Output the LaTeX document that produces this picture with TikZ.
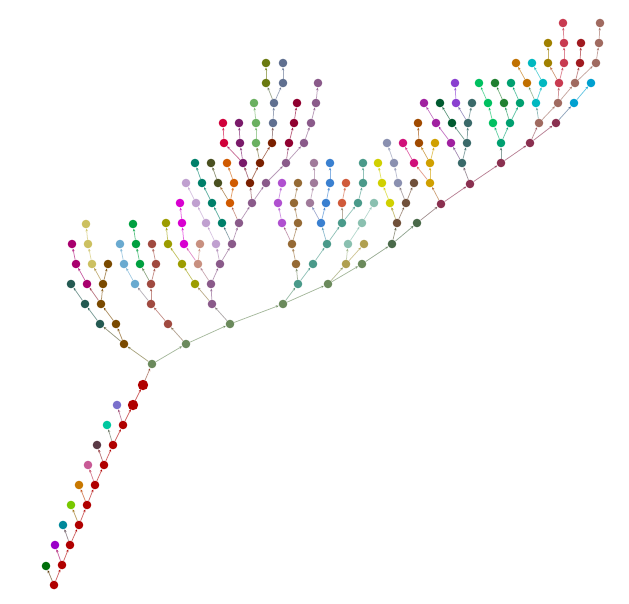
\documentclass[tikz,border=0pt]{standalone}
\usepackage{xcolor}
\usetikzlibrary{arrows.meta,backgrounds}

% palette
\definecolor{stemred}{HTML}{B00000}
\definecolor{leafgreen}{HTML}{006E0A}
\definecolor{leafviolet}{HTML}{9A00C8}
\definecolor{leafteal}{HTML}{00889A}
\definecolor{leaflime}{HTML}{78C800}
\definecolor{leaforange}{HTML}{C87800}
\definecolor{leafpink}{HTML}{C85A96}
\definecolor{leafplum}{HTML}{5A3A46}
\definecolor{leafaqua}{HTML}{00C8A0}
\definecolor{leafperi}{HTML}{7A70CC}
\definecolor{sage}{HTML}{6B8A5C}
\definecolor{umber}{HTML}{7A4A00}
\definecolor{pine}{HTML}{245A52}
\definecolor{berry}{HTML}{A8006E}
\definecolor{khaki}{HTML}{CCC060}
\definecolor{rust}{HTML}{A04A40}
\definecolor{sky}{HTML}{6AAAD0}
\definecolor{emerald}{HTML}{00A040}
\definecolor{olivine}{HTML}{9C9C00}
\definecolor{fuchsia}{HTML}{D800D0}
\definecolor{salmon}{HTML}{C89080}
\definecolor{mauve}{HTML}{8A5A8A}
\definecolor{lavender}{HTML}{C0A0D0}
\definecolor{jade}{HTML}{00806A}
\definecolor{tangerine}{HTML}{D05A00}
\definecolor{moss}{HTML}{4A5020}
\definecolor{chestnut}{HTML}{7A2000}
\definecolor{plum}{HTML}{7A1A6A}
\definecolor{crimson}{HTML}{D0003A}
\definecolor{lightgrn}{HTML}{6AB060}
\definecolor{slate}{HTML}{607090}
\definecolor{avocado}{HTML}{6A7A10}
\definecolor{wine}{HTML}{900030}
\definecolor{orchid}{HTML}{B050D0}
\definecolor{bronze}{HTML}{956A35}
\definecolor{dusk}{HTML}{A07A9A}
\definecolor{azure}{HTML}{3A80D0}
\definecolor{seafoam}{HTML}{4A9A8A}
\definecolor{coral}{HTML}{D05A3A}
\definecolor{mint}{HTML}{8AC0B0}
\definecolor{sand}{HTML}{B0A050}
\definecolor{fern}{HTML}{4A6A4A}
\definecolor{lemon}{HTML}{D0D000}
\definecolor{cocoa}{HTML}{70503A}
\definecolor{steel}{HTML}{8A90B0}
\definecolor{rose}{HTML}{D0107A}
\definecolor{goldy}{HTML}{D0A000}
\definecolor{maroonish}{HTML}{8A3050}
\definecolor{rusty}{HTML}{A04A00}
\definecolor{grape}{HTML}{A020A0}
\definecolor{forest}{HTML}{005A30}
\definecolor{amethyst}{HTML}{8A40D0}
\definecolor{spruce}{HTML}{3A6A6A}
\definecolor{spring}{HTML}{00C060}
\definecolor{clover}{HTML}{208030}
\definecolor{viridian}{HTML}{00A070}
\definecolor{rosybr}{HTML}{A06A60}
\definecolor{turq}{HTML}{00B8C0}
\definecolor{ocean}{HTML}{00A0D0}
\definecolor{amber}{HTML}{C07000}
\definecolor{mustard}{HTML}{A08000}
\definecolor{cherry}{HTML}{C83A50}
\definecolor{brick}{HTML}{A01A20}

% node/x/y/colour/parent
\def\treelist{%
 r1/62/565/stemred/r0, s1/46/566/leafgreen/r0,
 r2/70/545/stemred/r1, s2/55/545/leafviolet/r1,
 r3/79/525/stemred/r2, s3/63/525/leafteal/r2,
 r4/87/505/stemred/r3, s4/71/505/leaflime/r3,
 r5/95/485/stemred/r4, s5/79/485/leaforange/r4,
 r6/104/465/stemred/r5, s6/88/465/leafpink/r5,
 r7/113/445/stemred/r6, s7/97/445/leafplum/r6,
 r8/123/425/stemred/r7, s8/107/425/leafaqua/r7,
 r9/133/405/stemred/r8, s9/117/405/leafperi/r8,
 r10/143/385/stemred/r9,
 a0/152/364/sage/r10,
 b0/124/344/umber/a0,
 t1/100/324/pine/b0, t2/85/304/pine/t1, t3/71/284/pine/t2,
 b1/116/324/umber/b0, b2/101/304/umber/b1,
 m1/87/284/berry/b2, m2/76/264/berry/m1, m3/72/244/berry/m2,
 b3/103/284/umber/b2, b4/108/264/umber/b3,
 k1/92/264/khaki/b3, k2/88/244/khaki/k1, k3/86/224/khaki/k2,
 g1/186/344/sage/a0,
 rb1/168/324/rust/g1, rb2/151/304/rust/rb1,
 lb1/135/284/sky/rb2, lb2/124/264/sky/lb1, lb3/120/244/sky/lb2,
 rb3/151/284/rust/rb2,
 gr1/140/264/emerald/rb3, gr2/136/244/emerald/gr1, gr3/133/224/emerald/gr2,
 rb4/156/264/rust/rb3, rb5/152/244/rust/rb4,
 g2/230/324/sage/g1,
 u1/212/304/mauve/g2,
 o1/195/284/olivine/u1, o2/182/264/olivine/o1, o3/168/244/olivine/o2, o4/166/223/olivine/o3,
 u2/211/284/mauve/u1,
 sa1/198/264/salmon/u2,
 mg1/184/244/fuchsia/sa1, mg2/182/223/fuchsia/mg1, mg3/180/203/fuchsia/mg2,
 sa2/200/244/salmon/sa1,
 u3/220/264/mauve/u2,
 lv1/216/244/lavender/u3, lv2/206/223/lavender/lv1, lv3/196/203/lavender/lv2, lv4/186/183/lavender/lv3,
 u4/232/244/mauve/u3,
 tg1/222/223/jade/u4, tg2/212/203/jade/tg1, tg3/202/183/jade/tg2, tg4/195/163/jade/tg3,
 u5/239/223/mauve/u4,
 or1/230/203/tangerine/u5,
 do1/218/183/moss/or1, do2/211/163/moss/do1,
 or2/234/183/tangerine/or1, or3/227/163/tangerine/or2,
 u6/252/203/mauve/u5,
 db1/250/183/chestnut/u6,
 dm1/243/163/plum/db1,
 cr1/224/143/crimson/dm1, cr2/223/123/crimson/cr1,
 dm2/240/143/plum/dm1, dm3/239/123/plum/dm2,
 db2/260/163/chestnut/db1,
 lg1/256/143/lightgrn/db2, lg2/256/123/lightgrn/lg1, lg3/254/103/lightgrn/lg2,
 db3/272/143/chestnut/db2,
 sl1/273/123/slate/db3, sl2/274/103/slate/sl1,
 og1/266/83/avocado/sl2, og2/266/63/avocado/og1,
 sl3/283/83/slate/sl2, sl4/283/63/slate/sl3,
 u7/266/183/mauve/u6, u8/286/163/mauve/u7,
 dr1/289/143/wine/u8, dr2/294/123/wine/dr1, dr3/297/103/wine/dr2,
 u9/304/143/mauve/u8, u10/311/123/mauve/u9, u11/316/103/mauve/u10, u12/318/83/mauve/u11,
 g3/283/304/sage/g2,
 te1/298/284/seafoam/g3,
 bw1/296/264/bronze/te1, bw2/292/244/bronze/bw1,
 oc1/282/223/orchid/bw2, oc2/278/203/orchid/oc1, oc3/282/183/orchid/oc2,
 bw3/298/223/bronze/bw2, bw4/294/203/bronze/bw3, bw5/298/183/bronze/bw4,
 te2/313/264/seafoam/te1, te3/327/244/seafoam/te2,
 bl1/321/223/azure/te3,
 mv1/310/203/dusk/bl1, mv2/314/183/dusk/mv1, mv3/314/163/dusk/mv2,
 bl2/326/203/azure/bl1, bl3/330/183/azure/bl2, bl4/330/163/azure/bl3,
 te4/342/223/seafoam/te3,
 cl1/342/203/coral/te4, cl2/346/183/coral/cl1,
 te5/358/203/seafoam/te4, te6/363/183/seafoam/te5, te7/363/163/seafoam/te6,
 g4/328/284/sage/g3,
 kh1/346/264/sand/g4,
 mt1/348/244/mint/kh1, mt2/362/223/mint/mt1, mt3/374/203/mint/mt2,
 kh2/364/244/sand/kh1,
 g5/362/264/sage/g4,
 fe1/392/244/fern/g5,
 cc1/397/223/cocoa/fe1,
 ye1/390/203/lemon/cc1, ye2/382/183/lemon/ye1, ye3/378/163/lemon/ye2,
 cc2/406/203/cocoa/cc1,
 sb1/398/183/steel/cc2, sb2/394/163/steel/sb1, sb3/387/143/steel/sb2,
 cc3/414/183/cocoa/cc2,
 fe2/417/223/fern/fe1,
 ma1/441/204/maroonish/fe2,
 go1/430/183/goldy/ma1,
 rp1/414/163/rose/go1, rp2/403/143/rose/rp1,
 go2/430/163/goldy/go1,
 ru1/419/143/rusty/go2, ru2/418/123/rusty/ru1,
 go3/435/143/goldy/go2,
 ma2/470/184/maroonish/ma1,
 sp1/462/163/spruce/ma2,
 gp1/451/143/grape/sp1, gp2/436/123/grape/gp1, gp3/424/103/grape/gp2,
 sp2/467/143/spruce/sp1,
 fo1/452/123/forest/sp2, fo2/440/103/forest/fo1,
 sp3/468/123/spruce/sp2,
 am1/456/103/amethyst/sp3, am2/455/83/amethyst/am1,
 sp4/472/103/spruce/sp3,
 ma3/501/163/maroonish/ma2,
 vi1/501/143/viridian/ma3,
 sg1/493/123/spring/vi1, sg2/488/103/spring/sg1, sg3/479/83/spring/sg2,
 vi2/510/123/viridian/vi1,
 cv1/504/103/clover/vi2, cv2/495/83/clover/cv1,
 vi3/520/103/viridian/vi2, vi4/511/83/viridian/vi3,
 ma4/530/143/maroonish/ma3,
 rs1/539/123/rosybr/ma4,
 tq1/536/103/turq/rs1,
 ab1/527/83/amber/tq1, ab2/516/63/amber/ab1,
 tq2/543/83/turq/tq1, tq3/532/63/turq/tq2,
 rs2/558/103/rosybr/rs1,
 ch1/559/83/cherry/rs2,
 mu1/548/63/mustard/ch1, mu2/548/43/mustard/mu1,
 ch2/564/63/cherry/ch1, ch3/564/43/cherry/ch2, ch4/563/23/cherry/ch3,
 rs3/575/83/rosybr/rs2,
 bk1/580/63/brick/rs3, bk2/581/43/brick/bk1,
 rs4/596/63/rosybr/rs3, rs5/599/43/rosybr/rs4, rs6/600/23/rosybr/rs5,
 ma5/556/123/maroonish/ma4,
 oe1/574/103/ocean/ma5, oe2/591/83/ocean/oe1%
}

\begin{document}
\begin{tikzpicture}[
  x=1pt, y=-1pt,
  >={Stealth[length=3pt,width=2.6pt]},
  dot/.style={circle, inner sep=0pt, minimum size=8.6pt, draw=none},
  hubdot/.style={dot, minimum size=10.4pt},
  link/.style={->, line width=0.75pt, draw opacity=0.6}
]
\useasboundingbox (0,0) rectangle (629,603);

% =============================================================
% nodes
% =============================================================
\node[dot, fill=stemred] (r0) at (54,585) {};
\xglobal\colorlet{ncr0}{stemred}

\foreach \nm/\xx/\yy/\col/\up in \treelist {
  \node[dot, fill=\col] (\nm) at (\xx,\yy) {};
  \xglobal\colorlet{nc\nm}{\col}
}

% the two heavier stem nodes are drawn a little larger
\node[hubdot, fill=stemred] (r9big) at (r9) {};
\node[hubdot, fill=stemred] (r10big) at (r10) {};

% =============================================================
% edges, parent -> child
% =============================================================
\begin{scope}[on background layer]
\foreach \nm/\xx/\yy/\col/\up in \treelist
  \draw[link, draw=nc\up!50!nc\nm] (\up) -- (\nm);
\end{scope}

\end{tikzpicture}
\end{document}
